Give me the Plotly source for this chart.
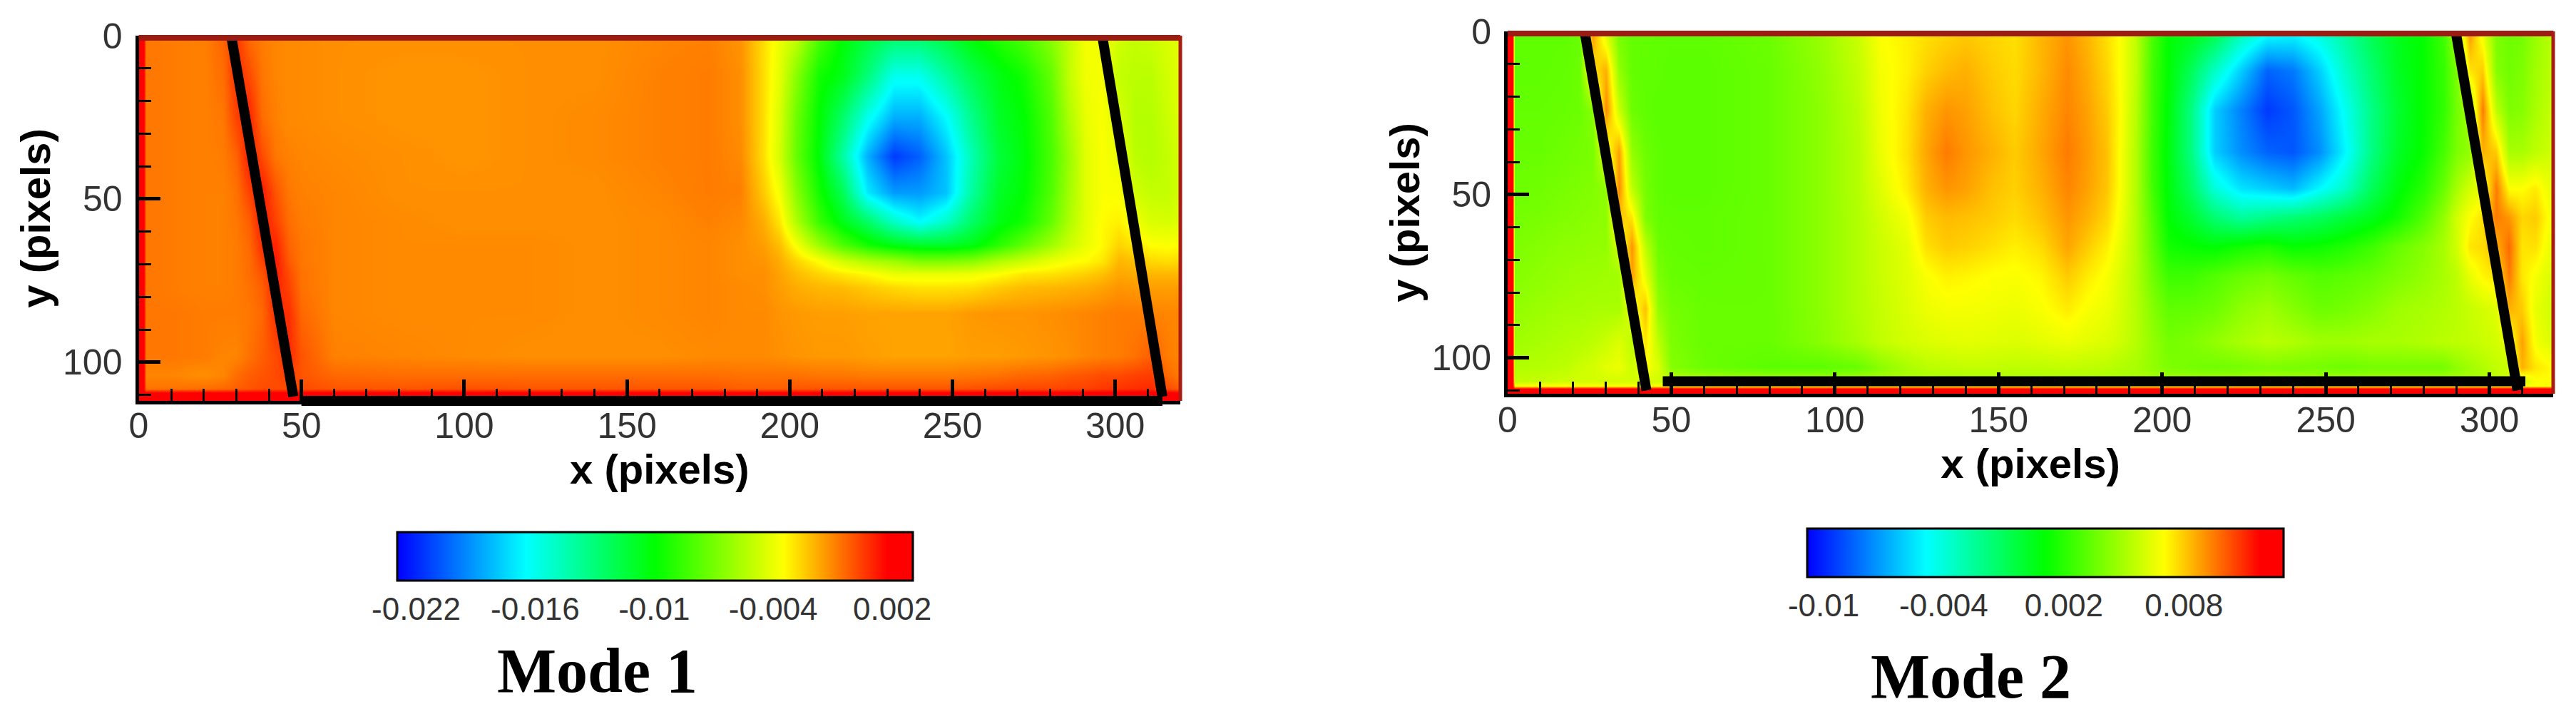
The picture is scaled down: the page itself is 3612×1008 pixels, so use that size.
import numpy as np
import plotly.graph_objects as go

# values, in units of 1e-3
x1 = [0, 1.5, 2.2, 10, 20, 26, 30, 34, 38, 42, 46, 50, 60, 80, 100, 120, 140, 160, 175, 185,
      192, 197, 202, 209, 216, 224, 232, 240, 248, 256, 264, 272, 280, 286, 291, 296,
      301, 306, 311, 316, 320]
y1 = [0, 12, 25, 37, 48, 57, 64, 69, 73, 77, 85, 98, 104, 108, 109.5, 111.8]
z1 = [
    [2, 2, -0.7, -0.8, -0.9, -0.3, 0.6, -0.5, -0.8, -1, -1.1, -1.1, -1.2, -1.2, -1.2, -1.2, -1.2, -1.0, -0.9, -1.3,
     -2.8, -4, -5, -8, -10, -11.5, -12.5, -12.5, -11.5, -10, -9, -8, -6.5, -5, -3.7, -3.8, -4.6, -5, -4.8, -4.4, -4.2],
    [2, 2, -0.7, -0.8, -0.9, -0.5, 0.8, 0.2, -0.7, -1, -1.1, -1.1, -1.2, -1.3, -1.3, -1.2, -1.2, -0.9, -0.8, -1.2,
     -2.8, -4.2, -6.5, -9.5, -10.5, -13, -16, -16, -14, -12, -10.5, -9.5, -7.5, -5, -3.8, -3.7, -5, -5.2, -5.2, -4.6, -4.2],
    [2, 2, -0.7, -0.8, -0.9, -0.7, 0.4, 1, -0.5, -0.9, -1.1, -1.1, -1.2, -1.3, -1.3, -1.2, -1.1, -0.9, -0.8, -1.2,
     -2.8, -4.5, -7.2, -10, -12.5, -16, -18.5, -18.5, -16.5, -13.5, -11, -10, -8, -5.5, -4, -3.6, -4.4, -5.4, -5.4, -4.8, -4.3],
    [2, 2, -0.7, -0.8, -0.9, -0.8, -0.3, 1.2, 0.2, -0.7, -0.9, -1.0, -1.1, -1.2, -1.3, -1.2, -1.1, -0.9, -0.8, -1.1,
     -2.8, -4.6, -7.4, -10.2, -14, -18.5, -21.5, -20.5, -18, -14.5, -11.5, -10.2, -8.2, -6, -4.2, -3.6, -4, -5.2, -5.4, -5, -4.5],
    [2, 2, -0.7, -0.8, -0.9, -0.9, -0.6, 0.4, 1.2, 0, -0.7, -0.9, -1.0, -1.2, -1.2, -1.2, -1.2, -1.0, -0.8, -0.9,
     -2.4, -3.8, -6.5, -9.5, -12, -17, -19, -19, -18, -14, -11, -10, -8, -5.8, -4.2, -3.6, -3.6, -4.6, -5, -5, -4.6],
    [2, 2, -0.7, -0.8, -0.9, -0.9, -0.7, -0.2, 1.2, 0.4, -0.5, -0.8, -1, -1.1, -1.2, -1.2, -1.2, -1.1, -0.9, -1.1,
     -1.8, -3, -5.5, -8.5, -10.5, -12.5, -15, -16.5, -15, -12.5, -10.5, -9.5, -7.5, -5.5, -4.2, -3.4, -3.2, -3.8, -4.4, -4.5, -4.3],
    [2, 2, -0.7, -0.8, -0.9, -0.9, -0.8, -0.4, 0.8, 1, -0.3, -0.7, -1, -1.1, -1.1, -1.1, -1.2, -1.1, -1, -1.2,
     -1.5, -2.2, -3.7, -6, -8, -9.5, -10.5, -11, -11, -10.5, -9, -7.5, -6, -4.8, -4, -3.4, -2.6, -3, -3.5, -3.6, -3.5],
    [2, 2, -0.7, -0.8, -0.9, -0.9, -0.8, -0.5, 0.4, 1.2, -0.1, -0.7, -1, -1.1, -1.1, -1.1, -1.2, -1.1, -1, -1.2,
     -1.3, -1.8, -2.6, -3.5, -4.6, -5.5, -6, -6.8, -6.8, -6.5, -5.5, -4.8, -4, -3.6, -3.4, -3, -2, -2.2, -2.7, -2.8, -2.7],
    [2, 2, -0.7, -0.8, -0.9, -0.9, -0.8, -0.5, 0, 1.2, 0.2, -0.6, -1, -1.1, -1.1, -1.1, -1.2, -1.1, -1, -1.2,
     -1.2, -1.6, -2.1, -2.6, -3, -3.4, -4, -4, -4, -3.9, -3.5, -3, -2.9, -2.7, -2.5, -2.2, -1.7, -1.8, -2, -2, -2],
    [2, 2, -0.7, -0.8, -0.9, -0.9, -0.8, -0.6, -0.2, 1, 0.4, -0.6, -1, -1.1, -1.1, -1.1, -1.2, -1.1, -1, -1.1,
     -1.2, -1.5, -1.8, -2, -2.1, -2.4, -2.7, -2.9, -2.9, -2.8, -2.4, -2.1, -2, -1.9, -1.8, -1.6, -1.3, -1.4, -1.5, -1.5, -1.5],
    [2, 2, -0.7, -0.7, -0.8, -0.8, -0.8, -0.7, -0.4, 0.8, 0.8, -0.4, -1, -1.1, -1.1, -1.1, -1.2, -1.1, -1, -1.1,
     -1.1, -1.3, -1.4, -1.5, -1.5, -1.6, -1.6, -1.6, -1.6, -1.4, -1.3, -1.3, -1.2, -1.1, -1, -0.9, -0.8, -0.8, -0.9, -1, -1],
    [2, 2, -0.7, -0.7, -0.8, -1, -1, -0.6, -0.2, 0.2, 0.9, 0, -0.9, -1.0, -1.1, -1.2, -1.2, -1.2, -1.1, -1.1,
     -1.1, -1.2, -1.3, -1.4, -1.4, -1.5, -1.6, -1.6, -1.6, -1.5, -1.5, -1.4, -1.3, -1.2, -1, -0.9, -0.8, -0.6, -0.2, -0.8, -1],
    [2, 2, -1, -1, -1.2, -1, -0.5, -0.2, 0, 0.2, 0.5, 0, -0.4, -0.5, -0.5, -0.5, -0.5, -0.5, -0.5, -0.6,
     -0.6, -0.6, -0.6, -0.7, -0.7, -0.8, -0.8, -0.8, -0.8, -0.7, -0.6, -0.4, -0.3, -0.1, 0, 0.2, 0.2, 0.4, 0.5, -0.4, -0.8],
    [2, 2, -0.6, -0.6, -0.5, -0.4, -0.2, 0, 0.2, 0.2, 0.2, 0.2, 0, 0, 0.1, 0, 0, 0, 0, -0.2,
     -0.2, -0.2, 0, 0, 0, 0, 0, 0, 0, 0.1, 0.2, 0.3, 0.3, 0.4, 0.4, 0.6, 0.7, 0.8, 0.9, 0.2, -0.2],
    [2] * 41,
    [2] * 41,
]

x2 = [0, 1.5, 2.2, 10, 18, 22, 26, 30, 34, 38, 42, 46, 50, 60,
      80, 95, 107, 114, 122, 128, 134, 140, 148, 155, 163, 171, 177, 183, 187, 192, 197, 202,
      209, 216, 224, 232, 240, 248, 256, 264, 272, 280, 286, 290, 294, 298, 302, 306, 310, 314, 320]
y2 = [0, 12, 24, 37, 48, 57, 66, 75, 85, 95, 103, 107, 108.6, 109.4, 111]
z2 = [
    [12, 12, 3.3, 3.3, 3.3, 3.5, 9, 6, 3.8, 3.4, 3.4, 3.3, 3.3, 3.3,
     3.6, 4.6, 5.8, 7, 7.3, 7.6, 7.8, 8, 7.8, 7.6, 8.4, 9, 8.4, 7.6, 7, 5.5, 2.8, 1,
     0.6, -0.5, -3, -4.5, -4.8, -4, -2.5, -0.8, 0.5, 1.2, 2.5, 5, 9, 6.5, 4, 3.6, 3.8, 4.6, 5.5],
    [12, 12, 3.3, 3.3, 3.4, 3.6, 7.5, 8.5, 4.5, 3.4, 3.3, 3.3, 3.2, 3.2,
     3.5, 4.4, 5.6, 6.8, 7.3, 7.9, 8.3, 8.5, 8, 7.7, 8.4, 9.2, 8.6, 7.8, 7, 5.5, 2.6, 1,
     -1, -3.5, -6, -8.5, -8, -6, -3.5, -1.5, 0.3, 1.2, 2.3, 4, 7.5, 8, 4.2, 3.7, 4, 4.8, 5.6],
    [12, 12, 3.4, 3.4, 3.5, 3.6, 4.2, 9.2, 5.8, 3.6, 3.3, 3.2, 3.2, 3.2,
     3.5, 4.3, 5.4, 6.7, 7.5, 8.5, 9, 8.8, 8.2, 7.8, 8.6, 9.3, 8.8, 8, 7.1, 5.3, 2.6, 0.8,
     -2, -6, -7.8, -9.5, -8.8, -7, -4.5, -2, 0, 1.2, 2.2, 3.8, 5, 9.5, 5.5, 4, 4.2, 5, 5.8],
    [12, 12, 3.5, 3.5, 3.7, 3.8, 3.9, 6.5, 8.8, 4.5, 3.6, 3.3, 3.2, 3.2,
     3.5, 4.3, 5.3, 6.6, 7.6, 8.7, 9.5, 9, 8.5, 8, 8.7, 9.5, 8.9, 8.2, 7, 5.2, 2.5, 0.7,
     -2, -6, -7.5, -8.5, -8.8, -7.5, -5, -2, 0.2, 1.3, 2.7, 4, 4.5, 8.5, 8, 5, 5, 5.5, 6],
    [12, 12, 3.6, 3.7, 3.9, 4, 4.1, 4.4, 9.2, 5.5, 3.8, 3.3, 3.2, 3.2,
     3.5, 4.3, 5.3, 6.3, 7.4, 8.5, 9, 8.8, 8.2, 7.9, 8.5, 9.3, 8.8, 8.1, 7, 5.2, 2.6, 0.8,
     -1.2, -4, -5.5, -6, -6.5, -5, -3.5, -1, 0.8, 2, 3.5, 5, 6, 6.5, 9.5, 7, 7, 7.4, 6.2],
    [12, 12, 3.8, 3.9, 4.1, 4.2, 4.3, 4.4, 8.2, 7.5, 4, 3.4, 3.3, 3.3,
     3.5, 4.3, 5.2, 6, 6.8, 8, 8.3, 8.2, 8, 7.7, 8.2, 9, 8.5, 7.8, 6.8, 5.2, 3, 1,
     0, -1.5, -2.5, -2, -1.5, -1, -0.2, 0.5, 1.5, 3, 4.5, 6, 7, 7.6, 9.5, 9, 7.8, 8, 6.5],
    [12, 12, 4, 4.2, 4.4, 4.4, 4.5, 4.5, 6, 9, 5.5, 3.6, 3.4, 3.3,
     3.5, 4.3, 5.2, 5.8, 6.4, 7.6, 8, 7.9, 7.6, 7.3, 7.7, 8.7, 8, 7.3, 6.5, 5.2, 3.3, 1.5,
     1.2, 1, 1.5, 1.8, 1.2, 1.4, 1.8, 2.5, 3.5, 4.2, 5, 6, 7.5, 7.7, 8.5, 9.8, 7.5, 7.6, 6.2],
    [12, 12, 4.2, 4.4, 4.6, 4.7, 4.7, 4.8, 4.8, 8.8, 6.5, 4, 3.5, 3.4,
     3.5, 4.3, 5.2, 5.8, 6.3, 6.9, 7.3, 7.2, 7, 6.9, 7.2, 8, 7.4, 6.9, 6.2, 5.2, 3.7, 2.5,
     2.5, 3, 3.5, 3.8, 3.4, 3, 3.2, 3.5, 4, 4.5, 5, 5.5, 6.5, 7.2, 7.5, 9.5, 7.5, 6.8, 6],
    [12, 12, 4.5, 4.7, 4.9, 4.9, 5, 5, 5, 6.5, 8.2, 4.5, 3.8, 3.5,
     3.5, 4.3, 5.2, 5.7, 6.2, 6.6, 6.8, 6.8, 6.7, 6.6, 6.9, 7.4, 6.9, 6.6, 6.1, 5.3, 4.2, 3.3,
     3.4, 3.6, 4.4, 4.8, 4.2, 3.6, 3.8, 4.2, 4.8, 5, 5.2, 5.4, 5.7, 6, 6.3, 8.5, 8, 6.5, 5.8],
    [12, 12, 4.8, 5, 5.2, 5.3, 5.5, 5.8, 6.2, 5.5, 7.5, 5.5, 4, 3.5,
     3.5, 4.2, 5, 5.6, 6, 6.2, 6.3, 6.4, 6.3, 6.2, 6.4, 6.6, 6.4, 6.2, 5.9, 5.3, 4.5, 3.8,
     4, 4.5, 5, 5.4, 5.2, 4.8, 4.8, 5, 5, 5.2, 5.4, 5.5, 5.6, 5.8, 6, 6.5, 8.8, 6.8, 6],
    [12, 12, 5.2, 5.3, 5.5, 5.8, 6, 6.4, 6.6, 5.8, 7, 6.2, 4.2, 3.6,
     3.2, 3.2, 3.5, 4.3, 5, 5.4, 5.5, 5.6, 5.6, 5.5, 5.5, 5.6, 5.5, 5.4, 5.2, 5, 4.5, 4,
     3.8, 3.7, 3.8, 4, 3.9, 3.8, 3.6, 3.8, 3.8, 3.8, 3.8, 4.4, 4.8, 5.2, 5.6, 5.8, 8.5, 7.5, 7],
    [12, 12, 5.6, 5.7, 5.9, 6, 6, 6, 6, 6, 6, 6, 5.5, 5.2,
     5, 5, 5, 5, 5, 5, 5, 5, 5, 5, 5, 5, 5, 5, 5, 5, 5, 5,
     5, 5, 5, 5, 5, 5, 5, 5, 5, 5, 5, 5, 5, 5, 5.5, 6, 6, 7, 7],
    [12, 12] + [7] * 49,
    [12] * 51,
    [12] * 51,
]

# thick black marks drawn over the maps
m1_left_x, m1_left_y = [28.4, 47.5], [0, 110.5]
m1_right_x, m1_right_y = [296, 314.5], [0, 110.5]
m1_base_x = [50, 314.5]
m2_left_x, m2_left_y = [23.5, 42.4], [0, 110]
m2_right_x, m2_right_y = [289.7, 308.6], [0, 110]
m2_base_x, m2_base_y = [47.4, 311], [107.2, 107.2]

cb1_ticks = [-0.022, -0.016, -0.01, -0.004, 0.002]
cb1_labels = ['-0.022', '-0.016', '-0.01', '-0.004', '0.002']
cb2_ticks = [-0.01, -0.004, 0.002, 0.008]
cb2_labels = ['-0.01', '-0.004', '0.002', '0.008']

W, H = 3612, 1008
PAGE = 8  # the page body sits 8px in from the window corner
rainbow = [[0, '#0000ff'], [0.25, '#00ffff'], [0.5, '#00ff00'], [0.75, '#ffff00'], [0.95, '#ff0000'], [1, '#ff0000']]


def px(v):
    return (v - PAGE) / W


def py(v):
    return 1 - (v - PAGE) / H


def colorbar(cx, top, length, ticks, labels):
    return dict(orientation='h', x=px(cx), xanchor='center', y=py(top), yanchor='top',
                lenmode='pixels', len=length, thicknessmode='pixels', thickness=68,
                xpad=0, ypad=0, outlinecolor='black', outlinewidth=3,
                tickvals=ticks, ticktext=labels, ticks='',
                tickfont=dict(family='Liberation Sans', size=44, color='#333333'))


fig = go.Figure()
fig.add_trace(go.Heatmap(x=x1, y=y1, z=np.array(z1) * 1e-3, zmin=-0.02297, zmax=0.00302, zsmooth='best',
                         colorscale=rainbow, xaxis='x', yaxis='y',
                         colorbar=colorbar(918, 746, 723, cb1_ticks, cb1_labels)))
fig.add_trace(go.Heatmap(x=x2, y=y2, z=np.array(z2) * 1e-3, zmin=-0.01082, zmax=0.01298, zsmooth='best',
                         colorscale=rainbow, xaxis='x2', yaxis='y2',
                         colorbar=colorbar(2868, 741, 668, cb2_ticks, cb2_labels)))

for xs, ys, xa, ya in [(m1_left_x, m1_left_y, 'x', 'y'), (m1_right_x, m1_right_y, 'x', 'y'),
                       (m2_left_x, m2_left_y, 'x2', 'y2'), (m2_right_x, m2_right_y, 'x2', 'y2'), (m2_base_x, m2_base_y, 'x2', 'y2')]:
    fig.add_trace(go.Scatter(x=xs, y=ys, mode='lines', line=dict(color='black', width=14), xaxis=xa, yaxis=ya,
                             showlegend=False, hoverinfo='skip', cliponaxis=False))


def axis(title, rng, dom, standoff, label_standoff, **kw):
    return dict(title=dict(text=title, standoff=standoff, font=dict(family='Liberation Sans', size=58, color='black', weight='bold')),
                range=rng, domain=dom, dtick=50, tick0=0, ticks='inside', ticklen=30, tickwidth=5, tickcolor='black',
                minor=dict(dtick=10, tick0=0, ticks='inside', ticklen=17, tickwidth=2.5, tickcolor='black', showgrid=False),
                showline=True, linecolor='black', linewidth=5, showgrid=False, zeroline=False,
                ticklabelstandoff=label_standoff, tickfont=dict(family='Liberation Sans', size=50, color='#333333'), **kw)


fig.update_layout(
    width=W, height=H, margin=dict(l=0, r=0, t=0, b=0, autoexpand=False), paper_bgcolor='white', plot_bgcolor='white',
    showlegend=False,
    xaxis=axis('x (pixels)', [0, 320], [px(194.5), px(1655)], 4, -13, anchor='y'),
    yaxis=axis('y (pixels)', [111.8, 0], [py(562), py(50)], 0, 8, anchor='x'),
    xaxis2=axis('x (pixels)', [0, 319.5], [px(2114), px(3580)], 4, -11, anchor='y2'),
    yaxis2=axis('y (pixels)', [111, 0], [py(552), py(44)], 0, 8, anchor='x2'),
)

# dark red frame on the open sides of each map
for xd, yd in [('x domain', 'y domain'), ('x2 domain', 'y2 domain')]:
    fig.add_shape(type='line', xref=xd, yref=yd, x0=0, x1=1, y0=0.994, y1=0.994, line=dict(color='#9c1c14', width=8))
    fig.add_shape(type='line', xref=xd, yref=yd, x0=1, x1=1, y0=0, y1=1, line=dict(color='#a81c14', width=5))

# this bar sits on the axis line, a trace would get clipped there
fig.add_shape(type='line', xref='x', yref='paper', x0=m1_base_x[0], x1=m1_base_x[1], y0=py(562), y1=py(562),
              line=dict(color='black', width=14))

fig.add_annotation(text='<b>Mode 1</b>', x=px(837), y=py(940), xref='paper', yref='paper', showarrow=False,
                   xanchor='center', yanchor='middle', font=dict(family='Liberation Serif', size=88, color='black'))
fig.add_annotation(text='<b>Mode 2</b>', x=px(2763), y=py(948), xref='paper', yref='paper', showarrow=False,
                   xanchor='center', yanchor='middle', font=dict(family='Liberation Serif', size=88, color='black'))

fig.write_html("out.html")
